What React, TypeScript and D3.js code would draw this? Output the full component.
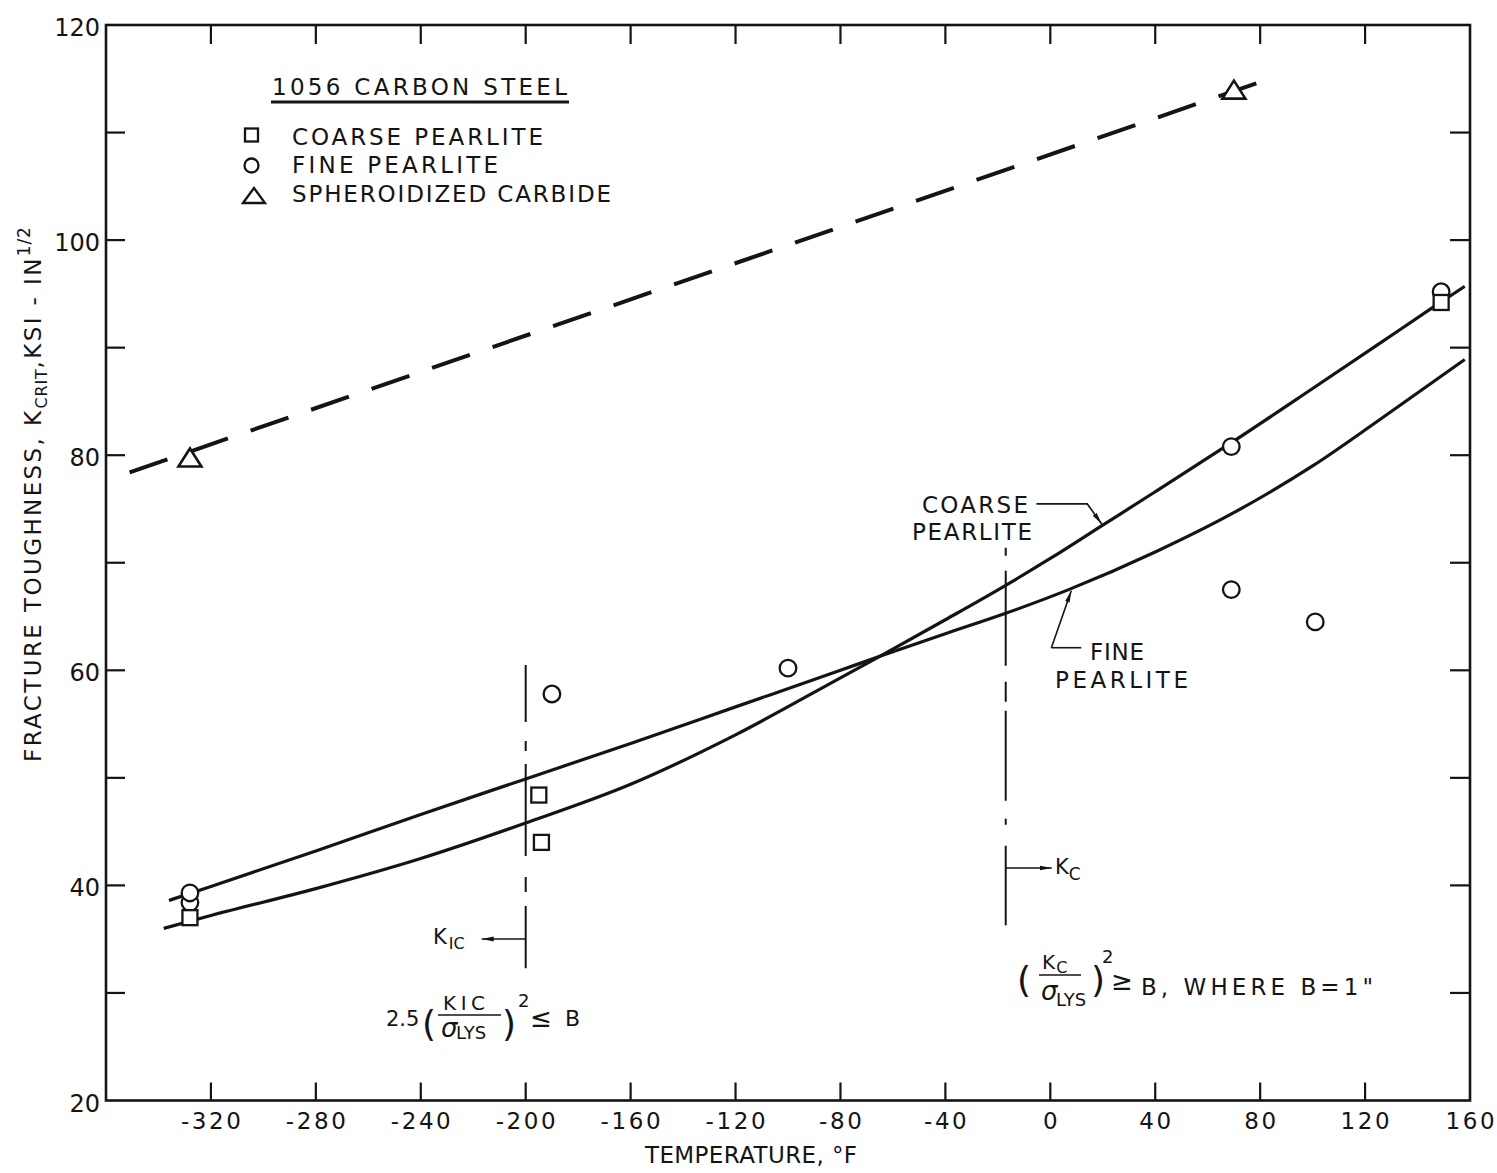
import React from "react";
import * as d3 from "d3";

const WIDTH = 1497;
const HEIGHT = 1173;

// ---- axes ----
const xDomain: [number, number] = [-360, 160];
const yDomain: [number, number] = [20, 120];
const xTickValues = [-320, -280, -240, -200, -160, -120, -80, -40, 0, 40, 80, 120];
const xTickLabels = [-320, -280, -240, -200, -160, -120, -80, -40, 0, 40, 80, 120, 160];
const yTickValues = [30, 40, 50, 60, 70, 80, 90, 100, 110];
const yTickLabels = [20, 40, 60, 80, 100, 120];

// ---- measured points ----
const coarseTemp = [-328, -195, -194, 149];
const coarseK = [37.0, 48.4, 44.0, 94.2];
const fineTemp = [-328, -328, -190, -100, 69, 69, 101, 149];
const fineK = [38.4, 39.3, 57.8, 60.2, 80.8, 67.5, 64.5, 95.2];
const sphTemp = [-328, 70];
const sphK = [79.7, 113.9];

// ---- fitted curves ----
const coarseCurveT = [-338, -320, -280, -240, -200, -160, -120, -80, -65, -40, -17, 0, 20, 40, 68, 100, 125, 145, 158];
const coarseCurveK = [36.0, 37.2, 39.7, 42.5, 45.8, 49.4, 54.0, 59.3, 61.3, 64.7, 67.9, 70.4, 73.5, 76.6, 81.0, 86.2, 90.3, 93.6, 95.7];
const fineCurveT = [-336, -320, -280, -240, -200, -160, -120, -80, -65, -40, -17, 7, 40, 68, 100, 125, 158];
const fineCurveK = [38.6, 39.9, 43.2, 46.6, 49.9, 53.2, 56.6, 60.0, 61.3, 63.4, 65.3, 67.5, 71.0, 74.4, 79.0, 83.2, 88.9];
const sphLineT = [-351, 80];
const sphLineK = [78.4, 114.7];

// ---- reference lines (temperature, K range) ----
const kicLineT = -200;
const kicLineK: [number, number] = [60.5, 32.3];
const kcLineT = -17;
const kcLineK: [number, number] = [71.4, 36.3];

const FONT = "DejaVu Sans";
const INK = "#141414";

export default function App() {
  const x = d3.scaleLinear().domain(xDomain).range([106, 1470]);
  const y = d3.scaleLinear().domain(yDomain).range([1100.5, 25]);

  const line = d3
    .line<[number, number]>()
    .x((d) => x(d[0]))
    .y((d) => y(d[1]))
    .curve(d3.curveMonotoneX);

  const coarsePath = line(coarseCurveT.map((t, i) => [t, coarseCurveK[i]]) as [number, number][]) || "";
  const finePath = line(fineCurveT.map((t, i) => [t, fineCurveK[i]]) as [number, number][]) || "";
  const sphPath =
    d3
      .line<[number, number]>()
      .x((d) => x(d[0]))
      .y((d) => y(d[1]))(sphLineT.map((t, i) => [t, sphLineK[i]]) as [number, number][]) || "";

  const x0 = x(xDomain[0]);
  const x1 = x(xDomain[1]);
  const yTop = y(yDomain[1]);
  const yBot = y(yDomain[0]);

  const tri = (cx: number, cy: number, hw: number, up: number, down: number) =>
    `M${cx - hw},${cy + down} L${cx},${cy - up} L${cx + hw},${cy + down} Z`;

  const txt = { fontFamily: FONT, fill: INK } as const;

  return (
    <svg
      width={WIDTH}
      height={HEIGHT}
      viewBox={`0 0 ${WIDTH} ${HEIGHT}`}
      style={{ position: "absolute", left: 0, top: 0, background: "#fff" }}
    >
      <defs>
        <marker
          id="arrow"
          viewBox="0 0 12 6"
          refX="12"
          refY="3"
          markerWidth="12"
          markerHeight="6"
          markerUnits="userSpaceOnUse"
          orient="auto"
        >
          <path d="M0,0.6 L12,3 L0,5.4 Z" fill={INK} />
        </marker>
      </defs>
      <rect x={0} y={0} width={WIDTH} height={HEIGHT} fill="#fff" />

      {/* frame */}
      <rect x={x0} y={yTop} width={x1 - x0} height={yBot - yTop} fill="none" stroke={INK} strokeWidth={2.6} />

      {/* x ticks bottom + top */}
      {xTickValues.map((v) => (
        <g key={`xt${v}`}>
          <line x1={x(v)} x2={x(v)} y1={yBot} y2={yBot - 18} stroke={INK} strokeWidth={2.2} />
          <line x1={x(v)} x2={x(v)} y1={yTop} y2={yTop + 19} stroke={INK} strokeWidth={2.2} />
        </g>
      ))}
      {xTickLabels.map((v) => (
        <text
          key={`xl${v}`}
          x={x(v) + 1.3}
          y={yBot + 28}
          textAnchor="middle"
          fontSize={23}
          letterSpacing={2.6}
          {...txt}
        >
          {v < 0 ? `-${Math.abs(v)}` : `${v}`}
        </text>
      ))}

      {/* y ticks left + right */}
      {yTickValues.map((v) => (
        <g key={`yt${v}`}>
          <line x1={x0} x2={x0 + 19} y1={y(v)} y2={y(v)} stroke={INK} strokeWidth={2.2} />
          <line x1={x1} x2={x1 - 20} y1={y(v)} y2={y(v)} stroke={INK} strokeWidth={2.2} />
        </g>
      ))}
      {yTickLabels.map((v) => (
        <text key={`yl${v}`} x={x0 - 6} y={y(v) + 11} textAnchor="end" fontSize={24} {...txt}>
          {v}
        </text>
      ))}

      {/* axis titles */}
      <text x={645} y={1163} fontSize={23} textLength={212} lengthAdjust="spacing" {...txt}>
        TEMPERATURE, °F
      </text>
      <text transform="translate(41,762) rotate(-90)" fontSize={23} letterSpacing={2.4} {...txt}>
        <tspan>FRACTURE TOUGHNESS, K</tspan>
        <tspan fontSize={16} dy={6} letterSpacing={0.8}>CRIT</tspan>
        <tspan dy={-6}>,KSI - IN</tspan>
        <tspan fontSize={17} dy={-11} letterSpacing={0.8}>1/2</tspan>
      </text>

      {/* legend */}
      <text x={272} y={95} fontSize={23} textLength={295} lengthAdjust="spacing" {...txt}>
        1056 CARBON STEEL
      </text>
      <line x1={271} x2={569} y1={102} y2={102} stroke={INK} strokeWidth={3} />
      <rect x={245} y={128.5} width={13} height={13} fill="none" stroke={INK} strokeWidth={2.3} />
      <text x={292} y={145} fontSize={23} textLength={251} lengthAdjust="spacing" {...txt}>
        COARSE PEARLITE
      </text>
      <circle cx={251.5} cy={165.5} r={7} fill="none" stroke={INK} strokeWidth={2.3} />
      <text x={292} y={173} fontSize={23} textLength={206} lengthAdjust="spacing" {...txt}>
        FINE PEARLITE
      </text>
      <path d={tri(254, 197, 11, 9, 6)} fill="none" stroke={INK} strokeWidth={2.3} strokeLinejoin="miter" />
      <text x={292} y={202} fontSize={23} textLength={319} lengthAdjust="spacing" {...txt}>
        SPHEROIDIZED CARBIDE
      </text>

      {/* spheroidized dashed line */}
      <path d={sphPath} fill="none" stroke={INK} strokeWidth={4} strokeDasharray="40 24" />

      {/* reference vertical lines */}
      <line
        x1={x(kicLineT)}
        x2={x(kicLineT)}
        y1={y(kicLineK[0])}
        y2={y(kicLineK[1])}
        stroke={INK}
        strokeWidth={2}
        strokeDasharray="57 19 10 13 92 21 15 14 80"
      />
      <line
        x1={x(kcLineT)}
        x2={x(kcLineT)}
        y1={y(kcLineK[0])}
        y2={y(kcLineK[1])}
        stroke={INK}
        strokeWidth={2}
        strokeDasharray="8 15 95 16 20 9 90 18 6 21 90"
      />

      {/* curves */}
      <path d={coarsePath} fill="none" stroke={INK} strokeWidth={3.2} />
      <path d={finePath} fill="none" stroke={INK} strokeWidth={3.2} />

      {/* markers */}
      {fineTemp.map((t, i) => (
        <circle key={`f${i}`} cx={x(t)} cy={y(fineK[i])} r={8.3} fill="#fff" stroke={INK} strokeWidth={2.3} />
      ))}
      {coarseTemp.map((t, i) => (
        <rect
          key={`c${i}`}
          x={x(t) - 7.5}
          y={y(coarseK[i]) - 7.5}
          width={15}
          height={15}
          fill="#fff"
          stroke={INK}
          strokeWidth={2.3}
        />
      ))}
      {sphTemp.map((t, i) => (
        <path key={`s${i}`} d={tri(x(t), y(sphK[i]), 11.5, 10, 8)} fill="#fff" stroke={INK} strokeWidth={2.6} />
      ))}

      {/* curve labels with leaders */}
      <text x={922} y={513} fontSize={23} textLength={106} lengthAdjust="spacing" {...txt}>
        COARSE
      </text>
      <text x={912} y={540} fontSize={23} textLength={120} lengthAdjust="spacing" {...txt}>
        PEARLITE
      </text>
      <polyline
        points={`${x(-5.3)},${y(75.47)} ${x(14.1)},${y(75.47)} ${x(19.6)},${y(73.6)}`}
        fill="none"
        stroke={INK}
        strokeWidth={1.6}
        markerEnd="url(#arrow)"
      />
      <text x={1090} y={660} fontSize={23} textLength={54} lengthAdjust="spacing" {...txt}>
        FINE
      </text>
      <text x={1055} y={688} fontSize={23} textLength={133} lengthAdjust="spacing" {...txt}>
        PEARLITE
      </text>
      <line x1={x(0.4)} x2={x(11.8)} y1={y(62.1)} y2={y(62.1)} stroke={INK} strokeWidth={1.6} />
      <line
        x1={x(0.4)}
        x2={x(8.0)}
        y1={y(62.1)}
        y2={y(67.4)}
        stroke={INK}
        strokeWidth={1.6}
        markerEnd="url(#arrow)"
      />

      {/* K_IC arrow + label */}
      <line
        x1={x(kicLineT)}
        x2={x(kicLineT) - 44}
        y1={939}
        y2={939}
        stroke={INK}
        strokeWidth={1.5}
        markerEnd="url(#arrow)"
      />
      <text x={433} y={944} fontSize={21} {...txt}>
        K
        <tspan fontSize={16} dy={5} dx={2}>IC</tspan>
      </text>

      {/* K_C arrow + label */}
      <line
        x1={x(kcLineT)}
        x2={x(kcLineT) + 46}
        y1={868}
        y2={868}
        stroke={INK}
        strokeWidth={1.5}
        markerEnd="url(#arrow)"
      />
      <text x={1055} y={874} fontSize={21} {...txt}>
        K
        <tspan fontSize={17} dy={6}>C</tspan>
      </text>

      {/* left formula: 2.5(KIC/σLYS)^2 ≤ B */}
      <text x={386} y={1026} fontSize={21} {...txt}>
        2.5
      </text>
      <text x={422} y={1036} fontSize={36} {...txt}>(</text>
      <text x={443} y={1010} fontSize={20} textLength={42} lengthAdjust="spacing" {...txt}>
        KIC
      </text>
      <line x1={438} x2={501} y1={1015} y2={1015} stroke={INK} strokeWidth={1.6} />
      <text x={441} y={1037} fontSize={26} fontStyle="italic" {...txt}>σ</text>
      <text x={456} y={1039} fontSize={18} {...txt}>LYS</text>
      <text x={502} y={1036} fontSize={36} {...txt}>)</text>
      <text x={518} y={1007} fontSize={18} {...txt}>2</text>
      <text x={530} y={1027} fontSize={26} {...txt}>≤</text>
      <text x={565} y={1026} fontSize={22} {...txt}>B</text>

      {/* right formula: (Kc/σLYS)^2 ≥ B, WHERE B=1" */}
      <text x={1017} y={992} fontSize={36} {...txt}>(</text>
      <text x={1042} y={969} fontSize={20} {...txt}>
        K<tspan fontSize={16} dy={4} dx={1}>C</tspan>
      </text>
      <line x1={1039} x2={1081} y1={975} y2={975} stroke={INK} strokeWidth={1.6} />
      <text x={1041} y={1000} fontSize={26} fontStyle="italic" {...txt}>σ</text>
      <text x={1056} y={1006} fontSize={18} {...txt}>LYS</text>
      <text x={1091} y={992} fontSize={36} {...txt}>)</text>
      <text x={1102} y={963} fontSize={18} {...txt}>2</text>
      <text x={1111} y={990} fontSize={26} {...txt}>≥</text>
      <text x={1141} y={995} fontSize={23} textLength={232} lengthAdjust="spacing" {...txt}>
        B, WHERE  B=1"
      </text>
    </svg>
  );
}
